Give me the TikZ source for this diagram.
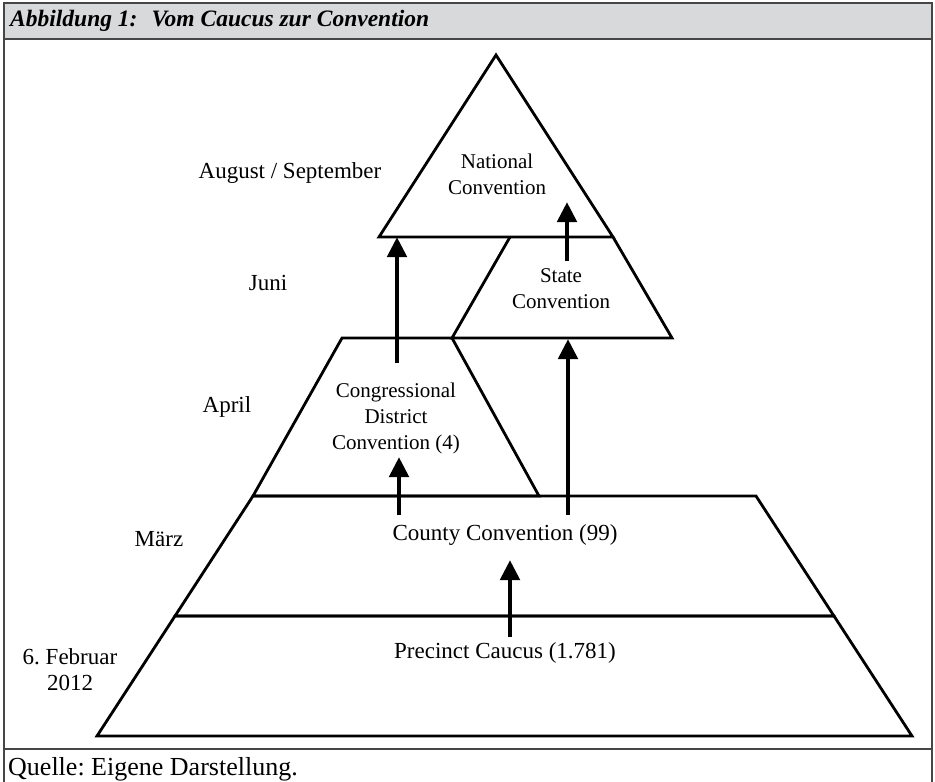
\documentclass[tikz,border=0pt]{standalone}
\usepackage{fontspec}
\setmainfont{Liberation Serif}
\usetikzlibrary{arrows.meta,positioning}
\definecolor{framegray}{RGB}{70,70,70}
\definecolor{headgray}{RGB}{216,217,219}
\tikzset{
  stage/.style={draw=black,line width=2.8pt,line join=miter},
  flow/.style={-{Triangle[length=20pt,width=19pt]},line width=4.8pt,draw=black},
  tier/.style={align=center,inner sep=0pt,font=\fontsize{21}{26}\selectfont},
  datelbl/.style={align=center,inner sep=0pt,font=\fontsize{23}{26}\selectfont},
  % frame
  rule/.style={draw=framegray,line width=1.6pt},
}
\frenchspacing

\begin{document}
\begin{tikzpicture}[x=1pt,y=-1pt]
  \useasboundingbox (0,0) rectangle (935,782);
  % frame with header and footer
  \draw[rule,fill=headgray] (4,3) rectangle (932,39);
  \draw[rule] (4,39) -- (4,782) (932,39) -- (932,782);
  \draw[rule] (4,749) -- (932,749);
  \node[anchor=west,inner sep=0pt,font=\fontsize{23.5}{26}\selectfont\bfseries\itshape] (head) at (10,21)
    {Abbildung 1:\hspace{0.6em}Vom Caucus zur Convention};
  \node[anchor=west,inner sep=0pt,font=\fontsize{26}{28}\selectfont] (src) at (8,769)
    {Quelle: Eigene Darstellung.};
  % pyramid levels
  \draw[stage] (496,55) -- (379,237) -- (613,237) -- cycle;
  \draw[stage] (510,237) -- (452,338) -- (672,338) -- (613,237);
  \draw[stage] (342,338) -- (253,496) -- (539,496) -- (452,338) -- cycle;
  \draw[stage] (253,496) -- (175,616) -- (834,616) -- (756,496) -- cycle;
  \draw[stage] (175,616) -- (97,736) -- (912,736) -- (834,616) -- cycle;
  % level texts
  \node[tier] (nat) at (497,174) {National\\Convention};
  \node[tier] (state) at (561,289) {State\\Convention};
  \node[tier] (cong) at (396,418) {Congressional\\District\\Convention (4)};
  \node[datelbl] (county) at (505,535) {County Convention (99)};
  \node[datelbl] (prec) at (505,653) {Precinct Caucus (1.781)};
  % dates
  \node[datelbl] (augsep) at (290,173) {August / September};
  \node[datelbl] (juni) at (268,283) {Juni};
  \node[datelbl] (april) at (227,407) {April};
  \node[datelbl] (maerz) at (159,539) {März};
  \node[datelbl] (feb) at (70,670) {6. Februar\\2012};
  % arrow ends
  \coordinate (p0) at (510,637); \coordinate (p1) at (510,560);
  \coordinate (c0) at (399,515); \coordinate (c1) at (399,457);
  \coordinate (s0) at (568,515); \coordinate (s1) at (568,339);
  \coordinate (d0) at (397,363); \coordinate (d1) at (397,237);
  \coordinate (t0) at (567,261); \coordinate (t1) at (567,202);
  \foreach \a/\b in {p0/p1,c0/c1,s0/s1,d0/d1,t0/t1}
    \draw[flow] (\a) -- (\b);
\end{tikzpicture}
\end{document}
